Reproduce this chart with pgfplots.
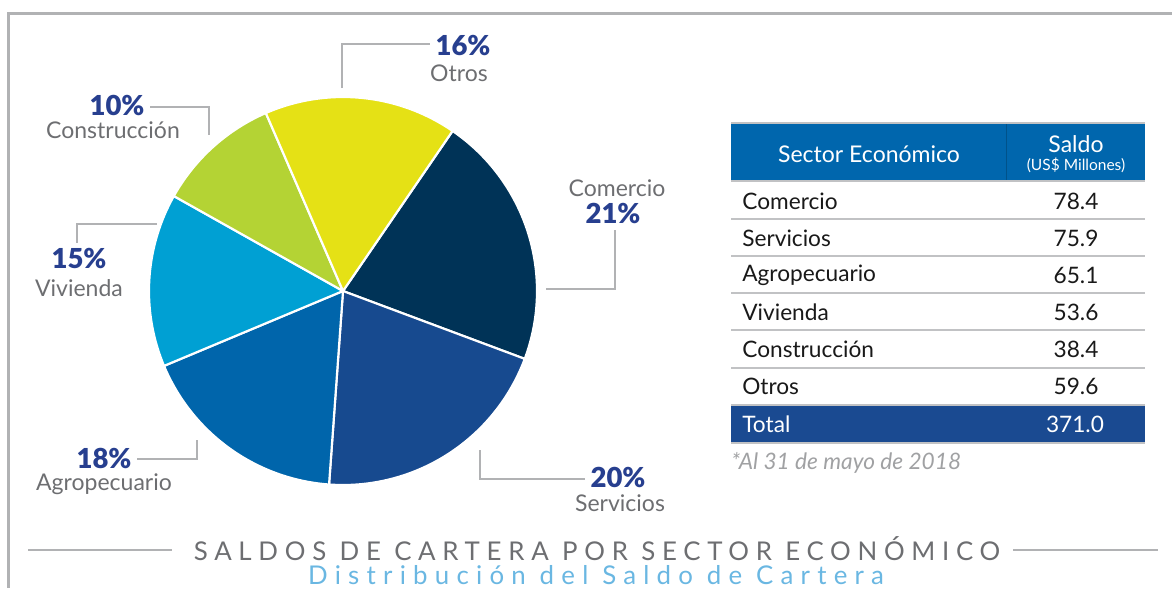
\documentclass[border=0pt]{standalone}
\usepackage{fontspec}
\setmainfont{Lato}
\newfontfamily\pctfont{Lato Black}
\usepackage{pgfplots}
\usepackage{pgfplotstable}
\pgfplotsset{compat=1.18}
\usepgfplotslibrary{polar}

\definecolor{cCom}{HTML}{003357}
\definecolor{cSer}{HTML}{174A8F}
\definecolor{cAgr}{HTML}{0065AB}
\definecolor{cViv}{HTML}{00A0D3}
\definecolor{cCon}{HTML}{B4D334}
\definecolor{cOtr}{HTML}{E5E115}
\definecolor{cPct}{HTML}{273F8F}
\definecolor{cTxt}{HTML}{6D6E71}
\definecolor{cLine}{HTML}{B1B2B4}
\definecolor{cRule}{HTML}{C1C2C4}
\definecolor{cHead}{HTML}{0066AD}
\definecolor{cTot}{HTML}{1A4A91}
\definecolor{cSub}{HTML}{6AB7E2}
\definecolor{cFoot}{HTML}{A0A1A3}

% saldo por sector (US$ millones)
\pgfplotstableread{
sector value col
Comercio 78.4 cCom
Servicios 75.9 cSer
Agropecuario 65.1 cAgr
Vivienda 53.6 cViv
Construcción 38.4 cCon
Otros 59.6 cOtr
}\sectores
\def\total{371.0}
\def\start{55.6}

\begin{document}
\begin{tikzpicture}[x=0.6pt,y=0.6pt]
\useasboundingbox (0,0) rectangle (1172,-588);
% marco
\draw[cLine, line width=1.8pt] (1172,-13) -- (8,-13) -- (8,-588);

% pastel
\coordinate (pc) at (343,-291);
\begin{polaraxis}[at={(pc)}, anchor=origin, scale only axis,
    width=232.8pt, height=232.8pt, hide axis, ymin=0, ymax=1, clip=false]
\pgfmathsetmacro\cum{0}
\pgfplotsforeachungrouped \i in {0,...,5}{%
  \pgfplotstablegetelem{\i}{value}\of\sectores \let\wval\pgfplotsretval
  \pgfplotstablegetelem{\i}{col}\of\sectores \let\wcol\pgfplotsretval
  \pgfmathsetmacro\aS{\start-\cum/\total*360}
  \pgfmathsetmacro\cum{\cum+\wval}
  \pgfmathsetmacro\aE{\start-\cum/\total*360}
  \edef\doplot{\noexpand\addplot[fill=\wcol, draw=white, line width=1.3pt,
      line join=round, domain=\aE:\aS, samples=90] {1} -- (axis cs:0,0) -- cycle;}
  \doplot
}
\end{polaraxis}

% lineas guia
\begin{scope}[cLine, line width=1.5pt]
\draw (342,-88) -- (342,-44) -- (430,-44);
\draw (150,-107) -- (209,-107) -- (209,-135);
\draw (157,-224) -- (77,-224) -- (77,-243);
\draw (137,-459) -- (197,-459) -- (197,-440);
\draw (546,-289) -- (615,-289) -- (615,-230);
\draw (480,-450) -- (480,-479) -- (585,-479);
\end{scope}

% etiquetas
\begin{scope}[every node/.style={inner sep=0pt}]
\def\pct#1#2#3{\node[cPct, font=\pctfont\fontsize{16.5}{18}\selectfont] at (#1,-#2) {#3\%};}
\def\lab#1#2#3{\node[cTxt, font=\fontsize{13.8}{15}\selectfont] at (#1,-#2) {#3};}
\pct{463}{46}{16} \lab{459}{73}{Otros}
\pct{117}{105}{10} \lab{113}{130}{Construcción}
\pct{79}{259}{15} \lab{79}{288}{Vivienda}
\pct{104}{458}{18} \lab{104}{484}{Agropecuario}
\pct{613}{213}{21} \lab{617}{188}{Comercio}
\pct{618}{477}{20} \lab{620}{503}{Servicios}
\end{scope}

% tabla
\fill[cHead] (731,-124) rectangle (1145,-180);
\fill[cTot] (731,-405) rectangle (1145,-443);
\draw[cHead!80!black, line width=0.5pt] (1006,-124) -- (1006,-180);
\foreach \yy in {123,181,219,256,293,330,368,405,443}
  \draw[cRule, line width=1.5pt] (731,-\yy) -- (1145,-\yy);
\begin{scope}[every node/.style={inner sep=0pt}]
\node[white, font=\fontsize{13.8}{15}\selectfont] at (869,-154) {Sector Económico};
\node[white, font=\fontsize{13.8}{15}\selectfont] at (1076,-144) {Saldo};
\node[white, font=\fontsize{9.3}{10}\selectfont] at (1076,-165) {(US\$ Millones)};
\pgfplotsforeachungrouped \i in {0,...,5}{%
  \pgfplotstablegetelem{\i}{sector}\of\sectores \let\wsec\pgfplotsretval
  \pgfplotstablegetelem{\i}{value}\of\sectores \let\wval\pgfplotsretval
  \pgfmathsetmacro\yy{201+37*\i}
  \node[anchor=west, black!90, font=\fontsize{13.6}{15}\selectfont] at (742,-\yy) {\wsec};
  \node[black!90, font=\fontsize{13.6}{15}\selectfont] at (1076,-\yy) {\wval};
}
\node[anchor=west, white, font=\fontsize{13.6}{15}\selectfont] at (742,-424) {Total};
\node[white, font=\fontsize{13.6}{15}\selectfont] at (1075,-424) {371.0};
\node[anchor=west, cFoot, font=\itshape\fontsize{13.6}{15}\selectfont] at (731,-463) {*Al 31 de mayo de 2018};
\end{scope}

% titulo
\draw[cLine, line width=1.5pt] (28,-550) -- (172,-550);
\draw[cLine, line width=1.5pt] (1013,-550) -- (1158,-550);
\node[cTxt, inner sep=0pt, text depth=0pt, font=\fontsize{15.5}{18}\selectfont\addfontfeature{LetterSpace=26}] at (597,-549) {SALDOS DE CARTERA POR SECTOR ECONÓMICO};
\node[cSub, inner sep=0pt, anchor=base, text height=9pt, text depth=0pt, font=\fontsize{15.5}{18}\selectfont\addfontfeature{LetterSpace=28}] at (596,-584) {Distribución del Saldo de Cartera};
\end{tikzpicture}
\end{document}
